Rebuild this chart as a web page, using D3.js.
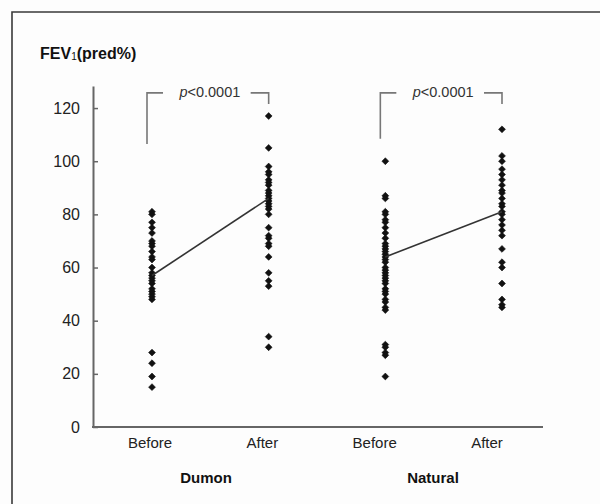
<!DOCTYPE html>
<html><head><meta charset="utf-8">
<script src="https://cdn.jsdelivr.net/npm/d3@7"></script>
<style>html,body{margin:0;padding:0;background:#fdfdfd;}svg{display:block;}</style>
</head><body>
<svg id="chart" width="600" height="504"></svg>
<script>
// ---- data ----
const groups = ["Dumon", "Natural"];
const phases = ["Before", "After"];
const yTicks = [0, 20, 40, 60, 80, 100, 120];
const dumonBefore = [81, 80, 77, 75, 73, 70, 69, 68, 66, 64, 63, 60, 58, 57, 56, 55, 54, 52, 51, 50, 49, 48, 28, 24, 19, 15];
const dumonAfter = [117, 105, 98, 96, 95, 93, 92, 91, 89, 88, 87, 86, 85, 84, 83, 82, 80, 75, 72, 71, 69, 68, 64, 58, 55, 53, 34, 30];
const naturalBefore = [100, 87, 86, 81, 80, 78, 77, 75, 73, 71, 69, 68, 67, 66, 65, 64, 63, 62, 60, 59, 58, 57, 56, 55, 54, 52, 51, 50, 48, 47, 45, 44, 31, 30, 28, 27, 19];
const naturalAfter = [112, 102, 100, 97, 95, 93, 91, 89, 88, 86, 84, 83, 81, 80, 78, 76, 74, 72, 67, 62, 60, 54, 48, 46, 45];
const dumonMean = [57, 86];
const naturalMean = [64, 81];
const pLabels = ["p<0.0001", "p<0.0001"];

const series = [
  {g: "Dumon", vals: [dumonBefore, dumonAfter], mean: dumonMean, p: pLabels[0]},
  {g: "Natural", vals: [naturalBefore, naturalAfter], mean: naturalMean, p: pLabels[1]}
];
const cats = [];
groups.forEach(g => phases.forEach(p => cats.push(g + "|" + p)));

const svg = d3.select("#chart");
const font = "'Liberation Sans', Arial, sans-serif";

// frame
svg.append("path").attr("d", "M12,504 L12,12 L600,12")
  .attr("fill", "none").attr("stroke", "#3a3a3a").attr("stroke-width", 1.6);

const y = d3.scaleLinear().domain([0, 128.3]).range([427, 86]);
const xPt = d3.scalePoint().domain(cats).range([152, 502]);
const xLab = d3.scalePoint().domain(cats).range([150, 487]);
const xGrp = d3.scalePoint().domain(groups).range([206, 433]);

// y axis
const yAxis = svg.append("g").attr("transform", "translate(93,0)")
  .call(d3.axisLeft(y).tickValues(yTicks).tickSizeInner(-5).tickSizeOuter(0).tickPadding(13));
yAxis.select(".domain").attr("stroke", "#666").attr("stroke-width", 2);
yAxis.selectAll(".tick line").attr("stroke", "#666").attr("stroke-width", 1.5);
yAxis.selectAll(".tick text").attr("font-family", font).attr("font-size", 16).attr("fill", "#222");

// x axis line
svg.append("line").attr("x1", 92).attr("x2", 543).attr("y1", y(0)).attr("y2", y(0))
  .attr("stroke", "#666").attr("stroke-width", 2.2);

// x labels
svg.selectAll(".xl").data(cats).enter().append("text")
  .attr("x", d => xLab(d)).attr("y", 448).attr("text-anchor", "middle")
  .attr("font-family", font).attr("font-size", 15).attr("fill", "#222")
  .text(d => d.split("|")[1]);
svg.selectAll(".gl").data(groups).enter().append("text")
  .attr("x", d => xGrp(d)).attr("y", 483).attr("text-anchor", "middle")
  .attr("font-family", font).attr("font-size", 15).attr("font-weight", "bold").attr("fill", "#111")
  .text(d => d);

// title
const t = svg.append("text").attr("x", 40).attr("y", 59)
  .attr("font-family", font).attr("font-size", 16).attr("font-weight", "bold").attr("fill", "#111");
t.append("tspan").text("FEV");
t.append("tspan").attr("font-size", 10).attr("font-weight", "normal").attr("dy", 1).text("1");
t.append("tspan").attr("dy", -1).text("(pred%)");

// points
const sym = d3.symbol().type(d3.symbolDiamond2).size(30);
series.forEach(s => {
  s.vals.forEach((arr, i) => {
    const key = s.g + "|" + phases[i];
    svg.append("g").selectAll("path").data(arr).enter().append("path")
      .attr("d", sym).attr("fill", "#111").attr("stroke", "#111").attr("stroke-width", 0.6)
      .attr("transform", d => `translate(${xPt(key)},${y(d)})`);
  });
  // mean line
  svg.append("path")
    .datum(s.mean.map((m, i) => [xPt(s.g + "|" + phases[i]), y(m)]))
    .attr("d", d3.line()).attr("fill", "none").attr("stroke", "#333").attr("stroke-width", 1.6);
  // bracket
  const x0 = xPt(s.g + "|Before") - 5, x1 = xPt(s.g + "|After");
  const top = y(125.7);
  const mid = (x0 + x1) / 2 + 2;
  const leftEnd = s.g === "Dumon" ? y(106.5) : y(108.5);
  const rightEnd = y(121.5);
  svg.append("path")
    .attr("d", `M${x0},${leftEnd} L${x0},${top} L${x0 + 16},${top} M${x1 - 18},${top} L${x1},${top} L${x1},${rightEnd}`)
    .attr("fill", "none").attr("stroke", "#777").attr("stroke-width", 1.6);
  const pt = svg.append("text").attr("x", mid).attr("y", top + 4).attr("text-anchor", "middle")
    .attr("font-family", font).attr("font-size", 14.5).attr("fill", "#333");
  pt.append("tspan").attr("font-style", "italic").text(s.p.slice(0, 1));
  pt.append("tspan").text(s.p.slice(1));
});
</script>
</body></html>
